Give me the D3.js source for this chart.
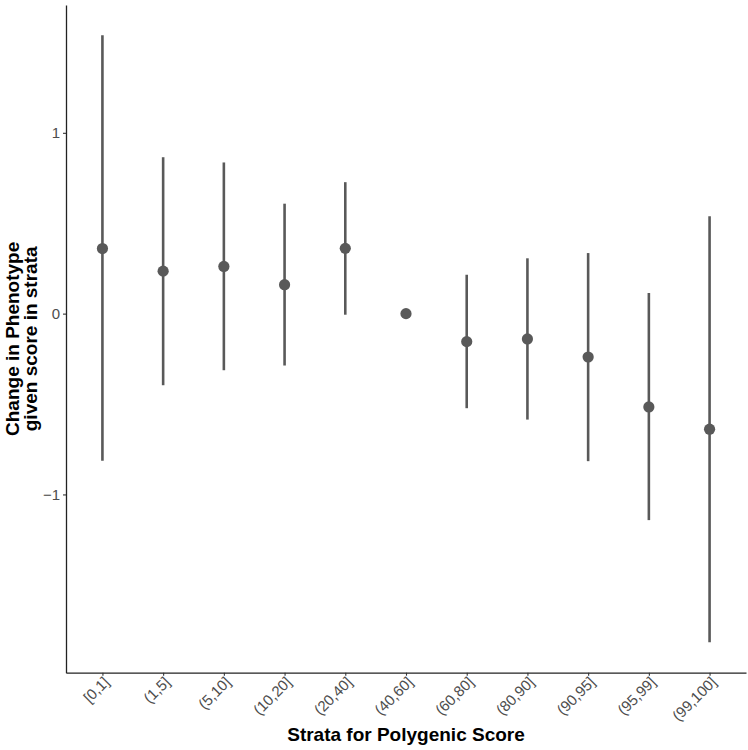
<!DOCTYPE html>
<html>
<head>
<meta charset="utf-8">
<script src="https://cdn.jsdelivr.net/npm/d3@7"></script>
<style>
  body { margin: 0; background: #fff; }
  #viz { width: 748px; height: 750px; }
  text { font-family: "Liberation Sans", Arial, sans-serif; }
</style>
</head>
<body>
<div id="viz"></div>
<script>
// -----------------------------
// DATA
// -----------------------------
const strata = ["[0,1]", "(1,5]", "(5,10]", "(10,20]", "(20,40]", "(40,60]",
                "(60,80]", "(80,90]", "(90,95]", "(95,99]", "(99,100]"];
const estimate = [0.360, 0.235, 0.261, 0.160, 0.361, 0.000, -0.155, -0.140, -0.240, -0.516, -0.639];
const lower    = [-0.814, -0.396, -0.313, -0.287, -0.006, 0.000, -0.523, -0.586, -0.816, -1.142, -1.818];
const upper    = [1.539, 0.865, 0.836, 0.608, 0.727, 0.000, 0.215, 0.306, 0.335, 0.114, 0.538];
const yTicks   = [-1, 0, 1];

const width = 748, height = 750;
const margin = { top: 5, right: 2, bottom: 77.3, left: 66 };
const mark = "#595959";

const svg = d3.select("#viz")
  .append("svg")
  .attr("width", width)
  .attr("height", height);

// -----------------------------
// SCALES (ggplot style expansion)
// -----------------------------
const x = d3.scalePoint()
  .domain(strata)
  .range([margin.left, width - margin.right])
  .padding(0.6);

const yMin = d3.min(lower), yMax = d3.max(upper);
const pad = (yMax - yMin) * 0.05;
const y = d3.scaleLinear()
  .domain([yMin - pad, yMax + pad])
  .range([height - margin.bottom, margin.top]);

const rows = strata.map((s, i) => ({ s, est: estimate[i], lo: lower[i], hi: upper[i] }));

// -----------------------------
// ERROR BARS + POINTS
// -----------------------------
svg.append("g")
  .selectAll("line")
  .data(rows.filter(d => d.hi > d.lo))
  .join("line")
  .attr("x1", d => x(d.s))
  .attr("x2", d => x(d.s))
  .attr("y1", d => y(d.lo))
  .attr("y2", d => y(d.hi))
  .attr("stroke", mark)
  .attr("stroke-width", 2.6);

svg.append("g")
  .selectAll("circle")
  .data(rows)
  .join("circle")
  .attr("cx", d => x(d.s))
  .attr("cy", d => y(d.est))
  .attr("r", 5.6)
  .attr("fill", mark);

// -----------------------------
// AXES
// -----------------------------
const fmt = d => d < 0 ? "\u2212" + Math.abs(d) : String(d);

const yAxis = svg.append("g")
  .attr("transform", `translate(${margin.left},0)`)
  .call(d3.axisLeft(y).tickValues(yTicks).tickFormat(fmt)
    .tickSizeInner(3).tickSizeOuter(0).tickPadding(3));

const xAxis = svg.append("g")
  .attr("transform", `translate(0,${height - margin.bottom})`)
  .call(d3.axisBottom(x).tickSizeInner(3).tickSizeOuter(0).tickPadding(3));

[xAxis, yAxis].forEach(g => {
  g.select(".domain").attr("stroke", "#222").attr("stroke-width", 1.3);
  g.selectAll(".tick line").attr("stroke", "#333").attr("stroke-width", 1.1);
  g.selectAll(".tick text")
    .attr("fill", "#4d4d4d")
    .style("font-size", "15px")
    .style("font-family", "'Liberation Sans', Arial, sans-serif");
});

xAxis.selectAll(".tick text")
  .attr("text-anchor", "end")
  .attr("dy", "0.6em")
  .attr("transform", "translate(1,4) rotate(-45)")
  .attr("y", 0)
  .attr("x", 0);

// -----------------------------
// TITLES
// -----------------------------
svg.append("text")
  .attr("x", (margin.left + width - margin.right) / 2)
  .attr("y", 741)
  .attr("text-anchor", "middle")
  .style("font-size", "19px")
  .style("font-weight", "bold")
  .attr("fill", "#000")
  .text("Strata for Polygenic Score");

const yMid = (margin.top + height - margin.bottom) / 2;
const yTitle = svg.append("text")
  .attr("transform", `translate(19,${yMid}) rotate(-90)`)
  .attr("text-anchor", "middle")
  .style("font-size", "19px")
  .style("font-weight", "bold")
  .attr("fill", "#000");
yTitle.append("tspan").attr("x", 0).attr("y", 0).text("Change in Phenotype");
yTitle.append("tspan").attr("x", 0).attr("y", 18).text("given score in strata");
</script>
</body>
</html>
